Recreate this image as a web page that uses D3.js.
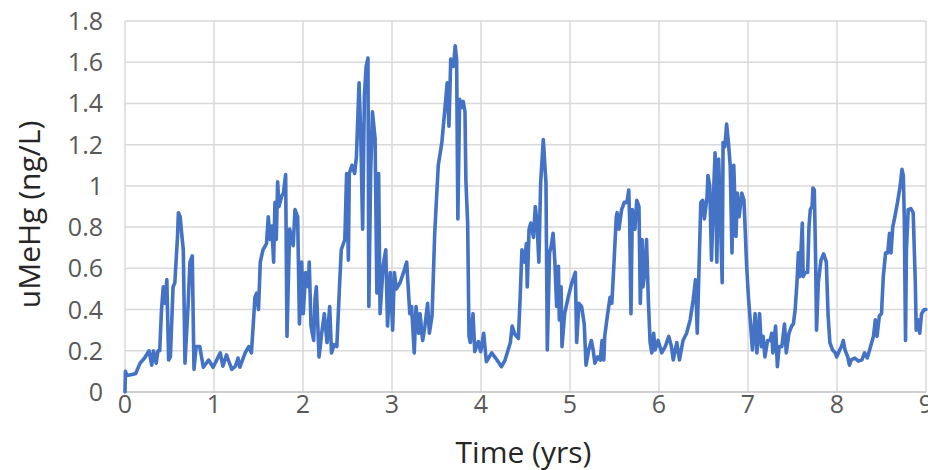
<!DOCTYPE html>
<html lang="en">
<head>
    <meta charset="UTF-8">
    <title>uMeHg over time</title>
    <script src="https://d3js.org/d3.v7.min.js"></script>
    <style>
        body{ margin:0; background:#fff; }
        svg{ display:block; font-family:"Open Sans", sans-serif; }
        .tick-label{ fill:#595959; font-size:25px; }
        .axis-title{ fill:#262626; font-size:30px; }
    </style>
</head>
<body>
<div id="chart"></div>
<script>

    // values (years, ng/L)
    const time = [0,0.005,0.02,0.08,0.12,0.17,0.22,0.27,0.30,0.32,0.35,0.37,0.39,0.41,0.43,0.45,0.47,0.49,0.51,0.54,0.56,0.59,0.60,0.62,0.64,0.655,0.674,0.71,0.73,0.756,0.775,0.80,0.84,0.88,0.94,0.99,
        1.07,1.10,1.14,1.20,1.24,1.27,1.29,1.35,1.39,1.42,1.44,1.46,1.48,1.50,1.52,1.55,1.59,1.61,1.63,1.65,1.67,1.685,1.70,1.715,1.73,1.76,1.78,1.805,1.82,1.85,1.89,1.91,1.94,1.96,1.985,
        2.003,2.03,2.06,2.07,2.09,2.12,2.135,2.15,2.18,2.21,2.24,2.27,2.30,2.32,2.35,2.38,2.41,2.43,2.47,2.49,2.51,2.52,2.55,2.58,2.60,2.63,2.65,2.67,2.69,2.71,2.73,2.74,2.76,2.78,2.81,2.83,2.85,2.866,2.90,2.93,2.95,2.98,
        3.007,3.026,3.05,3.09,3.13,3.165,3.20,3.22,3.25,3.27,3.30,3.315,3.345,3.37,3.40,3.42,3.45,3.48,3.52,3.56,3.60,3.62,3.64,3.66,3.69,3.71,3.726,3.74,3.76,3.78,3.80,3.82,3.83,3.85,3.865,3.88,3.91,3.93,3.97,3.996,
        4.03,4.06,4.12,4.18,4.23,4.27,4.33,4.35,4.38,4.42,4.44,4.46,4.49,4.51,4.52,4.54,4.56,4.59,4.61,4.63,4.65,4.67,4.70,4.72,4.73,4.745,4.77,4.79,4.81,4.83,4.85,4.87,4.88,4.90,4.91,4.94,4.98,
        5.02,5.06,5.075,5.10,5.13,5.16,5.18,5.21,5.24,5.26,5.28,5.31,5.34,5.36,5.38,5.39,5.42,5.45,5.47,5.49,5.52,5.53,5.55,5.58,5.61,5.64,5.66,5.67,5.685,5.70,5.73,5.75,5.775,5.79,5.81,5.82,5.84,5.86,5.88,5.90,5.92,5.94,5.955,5.99,
        6.03,6.07,6.11,6.14,6.16,6.20,6.23,6.27,6.31,6.35,6.385,6.41,6.43,6.45,6.47,6.49,6.51,6.54,6.55,6.57,6.59,6.61,6.63,6.65,6.67,6.685,6.71,6.72,6.74,6.76,6.78,6.80,6.82,6.84,6.865,6.88,6.90,6.93,6.955,6.985,
        7.005,7.03,7.05,7.08,7.10,7.13,7.15,7.17,7.19,7.22,7.25,7.266,7.28,7.31,7.33,7.35,7.38,7.41,7.43,7.46,7.49,7.51,7.53,7.55,7.566,7.58,7.596,7.61,7.62,7.64,7.67,7.685,7.70,7.72,7.73,7.745,7.76,7.77,7.79,7.82,7.85,7.88,7.90,7.92,7.95,7.98,7.996,
        8.03,8.05,8.07,8.09,8.12,8.14,8.16,8.20,8.24,8.28,8.31,8.34,8.37,8.41,8.43,8.45,8.476,8.50,8.52,8.546,8.57,8.59,8.607,8.626,8.65,8.68,8.71,8.73,8.745,8.756,8.77,8.78,8.80,8.83,8.856,8.88,8.89,8.91,8.93,8.95,8.98,9.0]
    const mehg = [0,0.10,0.08,0.085,0.09,0.14,0.165,0.20,0.13,0.20,0.14,0.20,0.20,0.40,0.51,0.43,0.545,0.155,0.17,0.51,0.53,0.755,0.87,0.85,0.755,0.69,0.14,0.43,0.63,0.66,0.11,0.22,0.22,0.12,0.155,0.12,
        0.19,0.125,0.18,0.11,0.125,0.165,0.12,0.19,0.22,0.19,0.32,0.46,0.48,0.40,0.63,0.69,0.72,0.85,0.74,0.805,0.63,0.92,0.74,1.02,0.90,0.95,0.965,1.055,0.27,0.79,0.71,0.885,0.85,0.33,0.63,
        0.38,0.58,0.51,0.63,0.32,0.25,0.45,0.51,0.17,0.285,0.38,0.24,0.415,0.19,0.23,0.22,0.51,0.69,0.74,1.06,0.64,1.06,1.10,1.06,1.14,1.50,1.23,0.79,1.44,1.58,1.62,0.415,1.06,1.36,1.23,0.48,1.06,0.38,0.61,0.69,0.32,0.58,
        0.30,0.58,0.50,0.53,0.58,0.63,0.38,0.415,0.19,0.415,0.285,0.38,0.25,0.32,0.43,0.285,0.37,0.77,1.10,1.21,1.40,1.50,1.29,1.615,1.58,1.68,1.615,0.84,1.42,1.38,1.41,1.36,1.03,0.82,0.27,0.24,0.38,0.196,0.245,0.196,
        0.285,0.147,0.19,0.155,0.123,0.155,0.24,0.32,0.28,0.26,0.46,0.69,0.63,0.72,0.51,0.79,0.82,0.75,0.90,0.82,0.63,1.015,1.225,1.08,1.015,0.204,0.675,0.71,0.77,0.63,0.415,0.61,0.35,0.51,0.22,0.38,0.46,
        0.53,0.58,0.24,0.43,0.415,0.33,0.13,0.204,0.25,0.204,0.14,0.17,0.155,0.25,0.155,0.27,0.37,0.46,0.43,0.59,0.85,0.87,0.79,0.885,0.92,0.92,0.98,0.84,0.38,0.885,0.79,0.93,0.90,0.43,0.74,0.51,0.58,0.74,0.45,0.24,0.19,0.285,0.204,0.25,
        0.19,0.22,0.27,0.22,0.156,0.24,0.156,0.25,0.285,0.35,0.45,0.545,0.285,0.61,0.92,0.93,0.84,0.95,1.05,1.00,0.64,0.93,1.16,0.63,1.13,0.93,0.53,1.21,1.19,1.30,1.21,1.10,0.675,1.10,0.755,0.965,0.85,0.965,0.93,0.61,
        0.46,0.32,0.204,0.38,0.19,0.38,0.22,0.27,0.17,0.25,0.25,0.285,0.19,0.32,0.123,0.22,0.22,0.33,0.19,0.285,0.32,0.33,0.40,0.53,0.675,0.56,0.69,0.82,0.56,0.58,0.58,0.80,0.885,0.90,0.99,0.98,0.64,0.30,0.53,0.64,0.67,0.63,0.37,0.24,0.204,0.19,0.17,
        0.204,0.22,0.25,0.204,0.17,0.13,0.156,0.165,0.15,0.156,0.19,0.165,0.21,0.27,0.35,0.27,0.37,0.38,0.56,0.675,0.675,0.77,0.675,0.80,0.85,0.92,1.00,1.08,1.05,0.85,0.25,0.69,0.885,0.89,0.87,0.53,0.30,0.35,0.285,0.38,0.40,0.40]

    const xTicks = [0,1,2,3,4,5,6,7,8,9]
    const yTicks = [0,0.2,0.4,0.6,0.8,1,1.2,1.4,1.6,1.8]
    const xTitle = "Time (yrs)"
    const yTitle = "uMeHg (ng/L)"

    const width = 928, height = 470
    const margin = {top: 21, right: 2, bottom: 78, left: 125}

    const svg = d3.select("#chart").append("svg")
        .attr("width", width)
        .attr("height", height)

    const x = d3.scaleLinear().domain([0, 9]).range([margin.left, width - margin.right])
    const y = d3.scaleLinear().domain([0, 1.8]).range([height - margin.bottom, margin.top])

    // gridlines
    svg.append("g")
        .selectAll("line.h")
        .data(yTicks.slice(1))
        .join("line")
        .attr("x1", x(0)).attr("x2", x(9))
        .attr("y1", d => y(d)).attr("y2", d => y(d))
        .attr("stroke", "#d9d9d9").attr("stroke-width", 1.5)

    svg.append("g")
        .selectAll("line.v")
        .data(xTicks)
        .join("line")
        .attr("x1", d => x(d)).attr("x2", d => x(d))
        .attr("y1", y(0)).attr("y2", y(1.8))
        .attr("stroke", "#d9d9d9").attr("stroke-width", 1.5)

    // x axis line
    svg.append("line")
        .attr("x1", x(0)).attr("x2", x(9))
        .attr("y1", y(0)).attr("y2", y(0))
        .attr("stroke", "#bfbfbf").attr("stroke-width", 1.5)

    // tick labels
    svg.append("g")
        .selectAll("text")
        .data(yTicks)
        .join("text")
        .attr("class", "tick-label")
        .attr("x", x(0) - 22)
        .attr("y", d => y(d))
        .attr("dy", "0.36em")
        .attr("text-anchor", "end")
        .text(d => d3.format("~g")(d))

    svg.append("g")
        .selectAll("text")
        .data(xTicks)
        .join("text")
        .attr("class", "tick-label")
        .attr("x", d => x(d))
        .attr("y", y(0) + 21)
        .attr("text-anchor", "middle")
        .text(d => d)

    // axis titles
    svg.append("text")
        .attr("class", "axis-title")
        .attr("x", (x(0) + x(9)) / 2 - 2)
        .attr("y", 463)
        .attr("text-anchor", "middle")
        .text(xTitle)

    svg.append("text")
        .attr("class", "axis-title")
        .attr("transform", `translate(40,${(y(0) + y(1.8)) / 2 + 8}) rotate(-90)`)
        .attr("text-anchor", "middle")
        .text(yTitle)

    // the series
    const line = d3.line()
        .x((d, i) => x(time[i]))
        .y(d => y(d))

    svg.append("path")
        .datum(mehg)
        .attr("d", line)
        .attr("fill", "none")
        .attr("stroke", "#4472c4")
        .attr("stroke-width", 3.6)
        .attr("stroke-linejoin", "round")
        .attr("stroke-linecap", "round")

</script>
</body>
</html>
